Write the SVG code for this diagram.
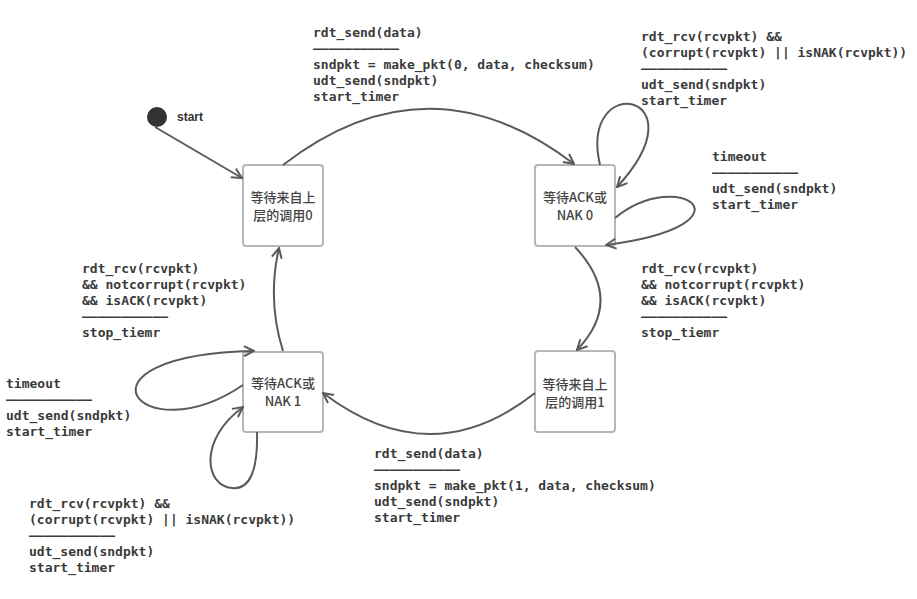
<svg xmlns="http://www.w3.org/2000/svg" width="917" height="599" viewBox="0 0 917 599">
<style>
.node rect{fill:#fff;stroke:#b3b7bb;stroke-width:2}
.node text{font-family:"Noto Sans CJK SC","Noto Sans",sans-serif;font-size:13px;font-weight:500;fill:#444;text-anchor:middle}
.lbl{font-family:"DejaVu Sans Mono","Liberation Mono",monospace;font-size:13px;font-weight:bold;fill:#3a3a3a}
.edge{fill:none;stroke:#5a5a5a;stroke-width:2;marker-end:url(#arr)}
</style>
<defs>
<marker id="arr" viewBox="0 0 12 12" refX="11" refY="6" markerWidth="12" markerHeight="12" markerUnits="userSpaceOnUse" orient="auto">
<path d="M1,1 L11,6 L1,11" fill="none" stroke="#5a5a5a" stroke-width="2"/>
</marker>
</defs>
<rect width="917" height="599" fill="#fff"/>
<g id="start">
<circle cx="157" cy="117" r="10" fill="#333"/>
<text x="177" y="121" font-family="Liberation Sans,Arial,sans-serif" font-size="12" font-weight="bold" fill="#333">start</text>
</g>
<g id="nodeA" class="node">
<rect x="243" y="165" width="80" height="81" rx="3"/>
<text x="283" y="202">等待来自上</text>
<text x="283" y="220">层的调用0</text>
</g>
<g id="nodeB" class="node">
<rect x="535" y="165" width="80" height="81" rx="3"/>
<text x="575" y="202">等待ACK或</text>
<text x="575" y="220">NAK 0</text>
</g>
<g id="nodeC" class="node">
<rect x="243" y="352" width="80" height="80" rx="3"/>
<text x="283" y="388">等待ACK或</text>
<text x="283" y="406">NAK 1</text>
</g>
<g id="nodeD" class="node">
<rect x="535" y="351" width="80" height="81" rx="3"/>
<text x="575" y="389">等待来自上</text>
<text x="575" y="407">层的调用1</text>
</g>
<g id="connectors">
<path class="edge" d="M155,127 L242,178"/>
<path class="edge" d="M283,165 Q428,53 574,164"/>
<path class="edge" d="M575,247 Q625,300 577,350"/>
<path class="edge" d="M535,393 Q431,475 323,393"/>
<path class="edge" d="M283,351 Q267,300 279,248"/>
<path class="edge" d="M600,165 C578,70 705,92 617,187"/>
<path class="edge" d="M615,218 C680,165 760,225 606,245"/>
<path class="edge" d="M243,385 C140,455 60,355 254,351"/>
<path class="edge" d="M257,432 C258,470 250,490 232,488 C205,486 198,440 243,407"/>
</g>
<g id="labels">
<text class="lbl"><tspan x="313" y="37">rdt_send(data)</tspan><tspan x="313" y="53">———————————</tspan><tspan x="313" y="69">sndpkt = make_pkt(0, data, checksum)</tspan><tspan x="313" y="85">udt_send(sndpkt)</tspan><tspan x="313" y="101">start_timer</tspan></text>
<text class="lbl"><tspan x="641" y="41">rdt_rcv(rcvpkt) &amp;&amp;</tspan><tspan x="641" y="57">(corrupt(rcvpkt) || isNAK(rcvpkt))</tspan><tspan x="641" y="73">———————————</tspan><tspan x="641" y="89">udt_send(sndpkt)</tspan><tspan x="641" y="105">start_timer</tspan></text>
<text class="lbl"><tspan x="712" y="161">timeout</tspan><tspan x="712" y="177">———————————</tspan><tspan x="712" y="193">udt_send(sndpkt)</tspan><tspan x="712" y="209">start_timer</tspan></text>
<text class="lbl"><tspan x="641" y="273">rdt_rcv(rcvpkt)</tspan><tspan x="641" y="289">&amp;&amp; notcorrupt(rcvpkt)</tspan><tspan x="641" y="305">&amp;&amp; isACK(rcvpkt)</tspan><tspan x="641" y="321">———————————</tspan><tspan x="641" y="337">stop_tiemr</tspan></text>
<text class="lbl"><tspan x="82" y="273">rdt_rcv(rcvpkt)</tspan><tspan x="82" y="289">&amp;&amp; notcorrupt(rcvpkt)</tspan><tspan x="82" y="305">&amp;&amp; isACK(rcvpkt)</tspan><tspan x="82" y="321">———————————</tspan><tspan x="82" y="337">stop_tiemr</tspan></text>
<text class="lbl"><tspan x="6" y="388">timeout</tspan><tspan x="6" y="404">———————————</tspan><tspan x="6" y="420">udt_send(sndpkt)</tspan><tspan x="6" y="436">start_timer</tspan></text>
<text class="lbl"><tspan x="374" y="458">rdt_send(data)</tspan><tspan x="374" y="474">———————————</tspan><tspan x="374" y="490">sndpkt = make_pkt(1, data, checksum)</tspan><tspan x="374" y="506">udt_send(sndpkt)</tspan><tspan x="374" y="522">start_timer</tspan></text>
<text class="lbl"><tspan x="29" y="508">rdt_rcv(rcvpkt) &amp;&amp;</tspan><tspan x="29" y="524">(corrupt(rcvpkt) || isNAK(rcvpkt))</tspan><tspan x="29" y="540">———————————</tspan><tspan x="29" y="556">udt_send(sndpkt)</tspan><tspan x="29" y="572">start_timer</tspan></text>
</g>
</svg>
